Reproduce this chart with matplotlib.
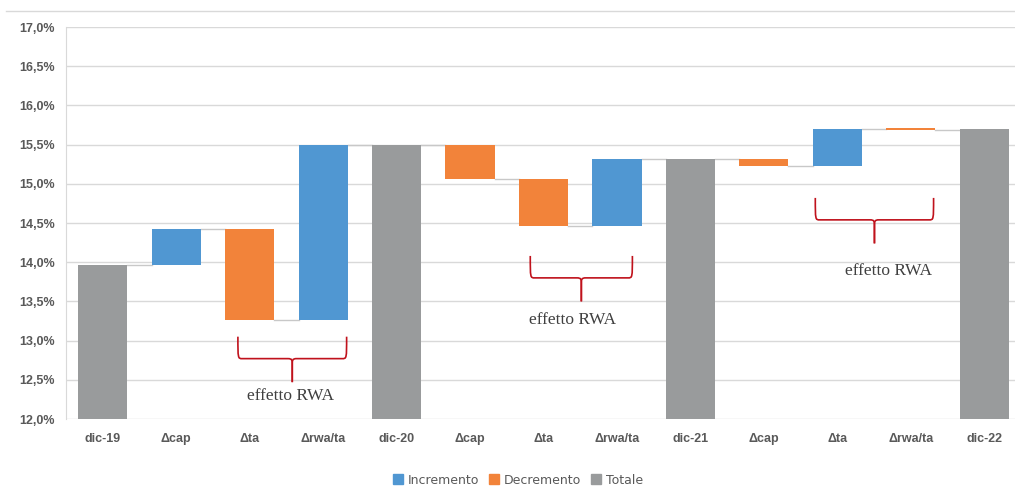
import numpy as np
import matplotlib
matplotlib.use("Agg")
import matplotlib.pyplot as plt
from matplotlib.path import Path
from matplotlib.patches import PathPatch, Patch
from matplotlib.lines import Line2D
from matplotlib.ticker import FuncFormatter

# categories and cumulative levels (CET1 ratio, %)
labels = ['dic-19', 'Δcap', 'Δta', 'Δrwa/ta', 'dic-20', 'Δcap', 'Δta', 'Δrwa/ta',
          'dic-21', 'Δcap', 'Δta', 'Δrwa/ta', 'dic-22']
levels = [13.97, 14.42, 13.26, 15.50, 15.50, 15.06, 14.46, 15.32,
          15.32, 15.23, 15.70, 15.69, 15.70]
is_total = [True, False, False, False, True, False, False, False,
            True, False, False, False, True]
legend_labels = ['Incremento', 'Decremento', 'Totale']
brace_text = 'effetto RWA'
# brace spans (x from, x to) in category units, and top y in %
brace_x = [(1.84, 3.32), (5.82, 7.21), (9.70, 11.31)]
brace_y = [13.05, 14.08, 14.82]
# annotation text anchors
note_x = [2.55, 6.39, 10.69]
note_y = [12.29, 13.26, 13.89]

c_inc = '#5097D2'
c_dec = '#F2833A'
c_tot = '#999B9C'
grid_c = '#D9D9D9'
txt_c = '#595959'
ymin = 12.0

fig = plt.figure(figsize=(10.15, 4.93), dpi=100)
ax = fig.add_axes([66 / 1015, 1 - 419 / 493, (1021 - 66) / 1015, (419 - 27) / 493])

x = np.arange(len(labels))
w = 0.67
prev = ymin
for i, lv in enumerate(levels):
    if is_total[i]:
        bottom, height, col = ymin, lv - ymin, c_tot
    else:
        bottom, height = min(prev, lv), abs(lv - prev)
        col = c_inc if lv >= prev else c_dec
        height = max(height, 0.025)
    ax.bar(x[i], height, bottom=bottom, width=w, color=col, zorder=3,
           edgecolor='none')
    prev = lv

# connector lines
for i in range(len(levels) - 1):
    ax.plot([x[i] + w / 2, x[i + 1] - w / 2], [levels[i], levels[i]],
            color='#C8C8C8', lw=1.0, zorder=2)

ax.set_xlim(-0.5, len(labels) - 0.5)
ax.set_ylim(ymin, 17.0)
ax.set_yticks(np.arange(12.0, 17.01, 0.5))
ax.yaxis.set_major_formatter(FuncFormatter(lambda v, p: f'{v:.1f}%'.replace('.', ',')))
ax.set_xticks(x)
ax.set_xticklabels(labels)
ax.grid(axis='y', color=grid_c, lw=1.0, zorder=0)
ax.tick_params(length=0, labelsize=9, labelcolor=txt_c, pad=10)
ax.tick_params(axis='y', pad=8)
for lab in ax.get_xticklabels() + ax.get_yticklabels():
    lab.set_fontweight('bold')
    lab.set_fontfamily('Liberation Sans')
for s in ['top', 'right', 'bottom']:
    ax.spines[s].set_visible(False)
ax.spines['left'].set_color(grid_c)


def brace(ax, x0, x1, ytop):
    xc = (x0 + x1) / 2
    ym = ytop - 0.28
    yb = ytop - 0.58
    r = 0.06
    for xe, sgn in ((x0, 1), (x1, -1)):
        verts = [(xe, ytop), (xe, ym), (xe, ym), (xe + sgn * r, ym),
                 (xc - sgn * r, ym),
                 (xc, ym), (xc, ym - 0.02), (xc, ym - 0.08),
                 (xc, yb)]
        codes = [Path.MOVETO, Path.CURVE4, Path.CURVE4, Path.CURVE4,
                 Path.LINETO,
                 Path.CURVE4, Path.CURVE4, Path.CURVE4,
                 Path.LINETO]
        ax.add_patch(PathPatch(Path(verts, codes), fill=False, ec='#C0121C',
                               lw=1.2, zorder=4))


for (x0, x1), yt in zip(brace_x, brace_y):
    brace(ax, x0, x1, yt)
for tx, ty in zip(note_x, note_y):
    ax.text(tx, ty, brace_text, ha='center', va='center', fontsize=12.5,
            family='Liberation Serif', color='#404040', zorder=5)

handles = [Patch(color=c) for c in (c_inc, c_dec, c_tot)]
fig.legend(handles, legend_labels, loc='center', bbox_to_anchor=(518 / 1015, 1 - 480 / 493),
           ncol=3, frameon=False, fontsize=9, handlelength=0.8, handleheight=0.8,
           handletextpad=0.4, columnspacing=0.8, labelcolor=txt_c)

fig.add_artist(Line2D([6 / 1015, 1], [1 - 11 / 493, 1 - 11 / 493], color=grid_c, lw=1.0))

fig.savefig('out.png', dpi=100)
